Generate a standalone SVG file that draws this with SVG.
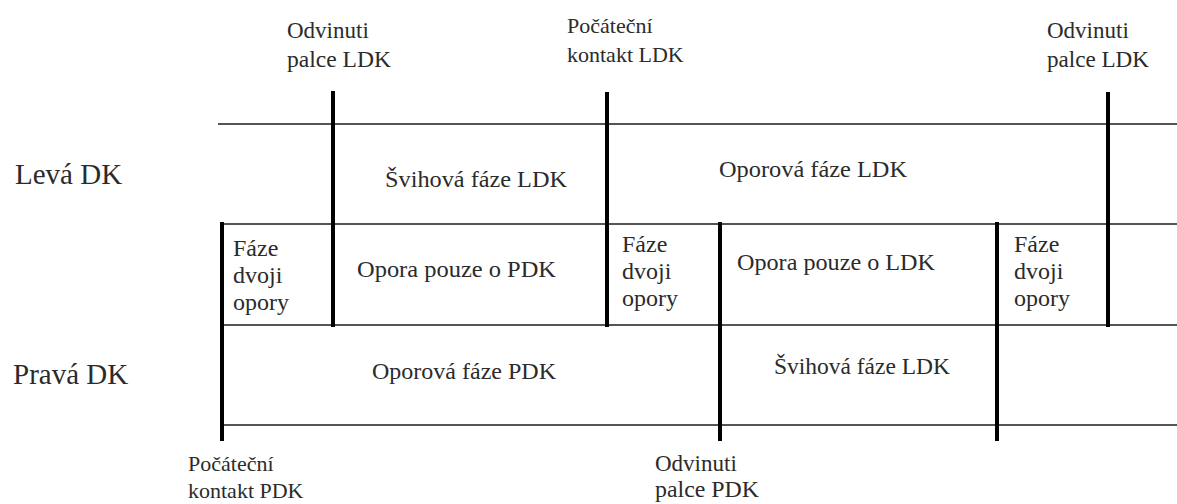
<svg xmlns="http://www.w3.org/2000/svg" width="1177" height="504" viewBox="0 0 1177 504">
<style>
text{font-family:"Liberation Serif","DejaVu Serif","Times New Roman",serif;fill:#2b2b2b;font-size:23px}
.row{font-size:29px}
.c{font-size:24px}
.s{font-size:22px}
.h{stroke:#555;stroke-width:2;fill:none}
.v{stroke:#000;stroke-width:4;fill:none}
</style>
<rect width="1177" height="504" fill="#fff"/>
<g id="connectors">
<line class="h" x1="218" y1="124" x2="1177" y2="124"/>
<line class="h" x1="222" y1="224" x2="1177" y2="224"/>
<line class="h" x1="222" y1="325" x2="1177" y2="325"/>
<line class="h" x1="222" y1="425" x2="1177" y2="425"/>
<line class="v" x1="222" y1="222" x2="222" y2="441"/>
<line class="v" x1="333" y1="91" x2="333" y2="327"/>
<line class="v" x1="607" y1="92" x2="607" y2="327"/>
<line class="v" x1="720" y1="222" x2="720" y2="441"/>
<line class="v" x1="997" y1="222" x2="997" y2="441"/>
<line class="v" x1="1108" y1="92" x2="1108" y2="327"/>
</g>
<g id="label-top-1"><text x="287" y="38">Odvinuti</text><text x="287" y="67" textLength="104" lengthAdjust="spacingAndGlyphs">palce LDK</text></g>
<g id="label-top-2"><text class="s" x="567" y="33">Počáteční</text><text class="s" x="567" y="62">kontakt LDK</text></g>
<g id="label-top-3"><text x="1047" y="38">Odvinuti</text><text x="1047" y="67" textLength="102" lengthAdjust="spacingAndGlyphs">palce LDK</text></g>
<g id="label-bottom-1"><text class="s" x="188" y="471">Počáteční</text><text class="s" x="188" y="498">kontakt PDK</text></g>
<g id="label-bottom-2"><text x="655" y="471">Odvinuti</text><text x="655" y="497" textLength="104" lengthAdjust="spacingAndGlyphs">palce PDK</text></g>
<g id="row-leva"><text class="row" x="15" y="184">Levá DK</text></g>
<g id="row-prava"><text class="row" x="13" y="384">Pravá DK</text></g>
<g id="cell-svih-ldk"><text class="c" x="385" y="187" textLength="182" lengthAdjust="spacingAndGlyphs">Švihová fáze LDK</text></g>
<g id="cell-opor-ldk"><text class="c" x="719" y="177" textLength="188" lengthAdjust="spacingAndGlyphs">Oporová fáze LDK</text></g>
<g id="cell-fdo-1"><text class="c" x="233" y="256">Fáze</text><text class="c" x="233" y="283">dvoji</text><text class="c" x="233" y="310">opory</text></g>
<g id="cell-opora-pdk"><text class="c" x="357" y="277" textLength="199" lengthAdjust="spacingAndGlyphs">Opora pouze o PDK</text></g>
<g id="cell-fdo-2"><text class="c" x="622" y="252">Fáze</text><text class="c" x="622" y="279">dvoji</text><text class="c" x="622" y="306">opory</text></g>
<g id="cell-opora-ldk"><text class="c" x="737" y="270" textLength="198" lengthAdjust="spacingAndGlyphs">Opora pouze o LDK</text></g>
<g id="cell-fdo-3"><text class="c" x="1014" y="252">Fáze</text><text class="c" x="1014" y="279">dvoji</text><text class="c" x="1014" y="306">opory</text></g>
<g id="cell-opor-pdk"><text class="c" x="372" y="379" textLength="184" lengthAdjust="spacingAndGlyphs">Oporová fáze PDK</text></g>
<g id="cell-svih-ldk-2"><text class="c" x="774" y="374" textLength="176" lengthAdjust="spacingAndGlyphs">Švihová fáze LDK</text></g>
</svg>
